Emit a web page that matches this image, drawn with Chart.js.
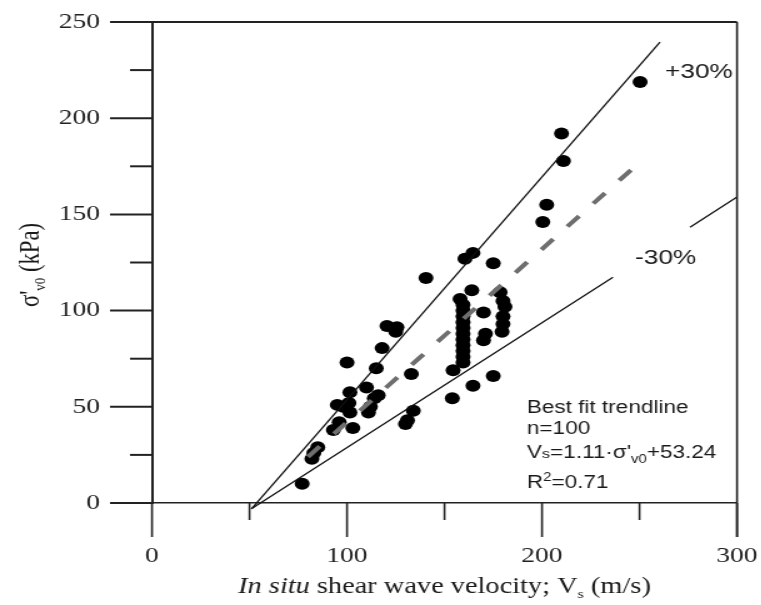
<!DOCTYPE html>
<html>
<head>
<meta charset="utf-8">
<script src="https://cdn.jsdelivr.net/npm/chart.js@4.4.1/dist/chart.umd.min.js"></script>
<style>
  html, body { margin: 0; padding: 0; background: #fff; overflow: hidden; }
  /* the source figure is stretched sideways, so the whole canvas is too */
  #wrap { width: 609px; height: 605px; transform: scaleX(1.25); transform-origin: 0 0; }
</style>
</head>
<body>
<div id="wrap"><canvas id="chart" width="609" height="605"></canvas></div>
<script>
  // Measured points: shear wave velocity Vs (m/s) and effective stress (kPa)
  const vs = [
    77, 82, 85, 83,
    93, 96, 103,
    95, 98, 101, 101.5, 101.5, 100,
    110, 111, 112, 114, 116,
    115, 118, 120.5, 125.6, 125,
    140.5, 133,
    134, 131, 130,
    154, 164.6, 175, 154.4,
    159.5, 159.5, 159.5, 159.5, 159.5, 159.5, 159.5, 159.5, 159.5, 159.5, 159.5, 158, 164,
    160.5, 164.6, 175,
    178.5, 180, 181, 180, 180, 179.5,
    170, 170, 171,
    200.4, 202.4, 210, 211, 250.3
  ];
  const sigma = [
    10, 23, 29, 26,
    38, 42, 39,
    51, 50, 52, 47, 57.6, 73,
    60, 47, 50, 54.5, 56,
    70, 80.5, 92, 91.4, 89,
    117, 67,
    48, 43, 41,
    54.5, 61, 66, 69,
    73, 76, 79, 82, 85, 88, 91, 94, 97, 100, 103, 106, 110.6,
    127, 130, 124.6,
    109.5, 105, 102, 97, 93, 89,
    99, 84.6, 88,
    146, 155, 192, 177.7, 218.8
  ];

  // best fit and +/-30% bounds (gap in the -30% line sits behind its label)
  const fitVs = [80, 250];
  const fitSigma = [24, 177];
  const plusVs = [51, 260.5];
  const plusSigma = [-3, 239.5];
  const minusVs = [51, 236.4, null, 275.9, 300];
  const minusSigma = [-3, 117.3, null, 143.3, 159];

  const xTickStep = 50;
  const yTickStep = 25;

  const toXY = (xs, ys) => xs.map((v, i) => ({ x: v, y: ys[i] }));

  const SERIF = '"Liberation Serif", "Times New Roman", serif';
  const SANS = '"Liberation Sans", Arial, sans-serif';

  // draw a run of text pieces with different fonts / offsets
  function drawRich(ctx, parts, x, y, align) {
    let total = 0;
    parts.forEach(p => { ctx.font = p.font; total += ctx.measureText(p.text).width; });
    let cx = align === 'center' ? x - total / 2 : x;
    parts.forEach(p => {
      ctx.font = p.font;
      ctx.fillText(p.text, cx, y + (p.dy || 0));
      cx += ctx.measureText(p.text).width;
    });
  }

  // long/short tick marks and the closed frame
  const frameTicks = {
    id: 'frameTicks',
    afterDatasetsDraw(chart) {
      const { ctx, chartArea: a, scales: { x, y } } = chart;
      ctx.save();
      ctx.strokeStyle = '#222';
      const line = (x1, y1, x2, y2, w) => {
        ctx.lineWidth = w;
        ctx.beginPath(); ctx.moveTo(x1, y1); ctx.lineTo(x2, y2); ctx.stroke();
      };
      line(a.left - 33.6, a.top, a.right, a.top, 2);
      line(a.right, a.top, a.right, a.bottom + 34, 1.6);
      y.ticks.forEach(t => {
        const py = y.getPixelForValue(t.value);
        const len = t.value % 50 === 0 ? 33.6 : 17.6;
        line(a.left - len, py, a.left, py, 2);
      });
      x.ticks.forEach(t => {
        const px = x.getPixelForValue(t.value);
        const len = t.value % 100 === 0 ? 34 : 17;
        line(px, a.bottom, px, a.bottom + len, 1.6);
      });
      ctx.restore();
    }
  };

  // axis titles and the annotation texts
  const labels = {
    id: 'labels',
    afterDraw(chart) {
      const { ctx, chartArea: a } = chart;
      ctx.save();
      ctx.fillStyle = '#1a1a1a';
      ctx.textBaseline = 'alphabetic';
      ctx.textAlign = 'left';

      const cx = (a.left + a.right) / 2;
      drawRich(ctx, [
        { text: 'In situ', font: 'italic 22.7px ' + SERIF },
        { text: ' shear wave velocity; V', font: '22.7px ' + SERIF },
        { text: 's', font: '13px ' + SERIF, dy: 5 },
        { text: ' (m/s)', font: '22.7px ' + SERIF }
      ], cx, 593, 'center');

      ctx.save();
      ctx.translate(31, 265);
      ctx.rotate(-Math.PI / 2);
      drawRich(ctx, [
        { text: "\u03c3'", font: '22.7px ' + SERIF },
        { text: 'v0', font: '13px ' + SERIF, dy: 5 },
        { text: ' (kPa)', font: '22.7px ' + SERIF }
      ], 0, 0, 'center');
      ctx.restore();

      ctx.textBaseline = 'middle';
      ctx.font = '21px ' + SANS;
      ctx.fillText('+30%', 532, 72);
      ctx.fillText('-30%', 508, 258);

      ctx.textBaseline = 'alphabetic';
      const ax = 421.6;
      ctx.font = '18px ' + SANS;
      ctx.fillText('Best fit trendline', ax, 413);
      ctx.fillText('n=100', ax, 434);
      drawRich(ctx, [
        { text: 'V', font: '18px ' + SANS },
        { text: 's', font: '13px ' + SANS },
        { text: '=1.11\u00b7\u03c3\'', font: '18px ' + SANS },
        { text: 'v0', font: '12px ' + SANS, dy: 5 },
        { text: '+53.24', font: '18px ' + SANS }
      ], ax, 458, 'left');
      drawRich(ctx, [
        { text: 'R', font: '18px ' + SANS },
        { text: '2', font: '12px ' + SANS, dy: -7 },
        { text: '=0.71', font: '18px ' + SANS }
      ], ax, 488, 'left');
      ctx.restore();
    }
  };

  // fixed axis sizes, and no extra room for the end labels
  const fixX = s => { s.height = 102; s.paddingLeft = 0; s.paddingRight = 0; };
  const fixY = s => { s.width = 121.6; s.paddingTop = 0; s.paddingBottom = 0; };

  const config = {
    type: 'scatter',
    data: {
      datasets: [
        {
          label: 'Best fit',
          data: toXY(fitVs, fitSigma),
          showLine: true,
          borderColor: '#6e6e6e',
          borderWidth: 4,
          borderDash: [14, 17],
          pointRadius: 0,
          order: 1
        },
        {
          label: '+30%',
          data: toXY(plusVs, plusSigma),
          showLine: true,
          borderColor: '#111',
          borderWidth: 1.3,
          pointRadius: 0,
          clip: false,
          order: 1
        },
        {
          label: '-30%',
          data: toXY(minusVs, minusSigma),
          showLine: true,
          spanGaps: false,
          borderColor: '#111',
          borderWidth: 1.3,
          pointRadius: 0,
          clip: false,
          order: 1
        },
        {
          label: 'Data',
          data: toXY(vs, sigma),
          backgroundColor: '#000',
          borderWidth: 0,
          pointRadius: 6,
          order: 2
        }
      ]
    },
    options: {
      responsive: false,
      animation: false,
      devicePixelRatio: 1,
      layout: { padding: { top: 22, right: 19.4, left: 0, bottom: 0 } },
      plugins: {
        legend: { display: false },
        tooltip: { enabled: false }
      },
      scales: {
        x: {
          type: 'linear',
          min: 0,
          max: 300,
          grid: { display: false, drawTicks: false },
          border: { display: true, color: '#222', width: 1.6 },
          ticks: {
            stepSize: xTickStep,
            autoSkip: false,
            maxRotation: 0,
            padding: 40,
            color: '#222',
            font: { family: SERIF, size: 22 },
            callback: v => (v % 100 === 0 ? v : '')
          },
          afterFit: fixX
        },
        y: {
          type: 'linear',
          min: 0,
          max: 250,
          grid: { display: false, drawTicks: false },
          border: { display: true, color: '#222', width: 2 },
          ticks: {
            stepSize: yTickStep,
            autoSkip: false,
            padding: 41.6,
            color: '#222',
            font: { family: SERIF, size: 22 },
            callback: v => (v % 50 === 0 ? v : '')
          },
          afterFit: fixY
        }
      }
    },
    plugins: [frameTicks, labels]
  };

  new Chart(document.getElementById('chart'), config);
</script>
</body>
</html>
